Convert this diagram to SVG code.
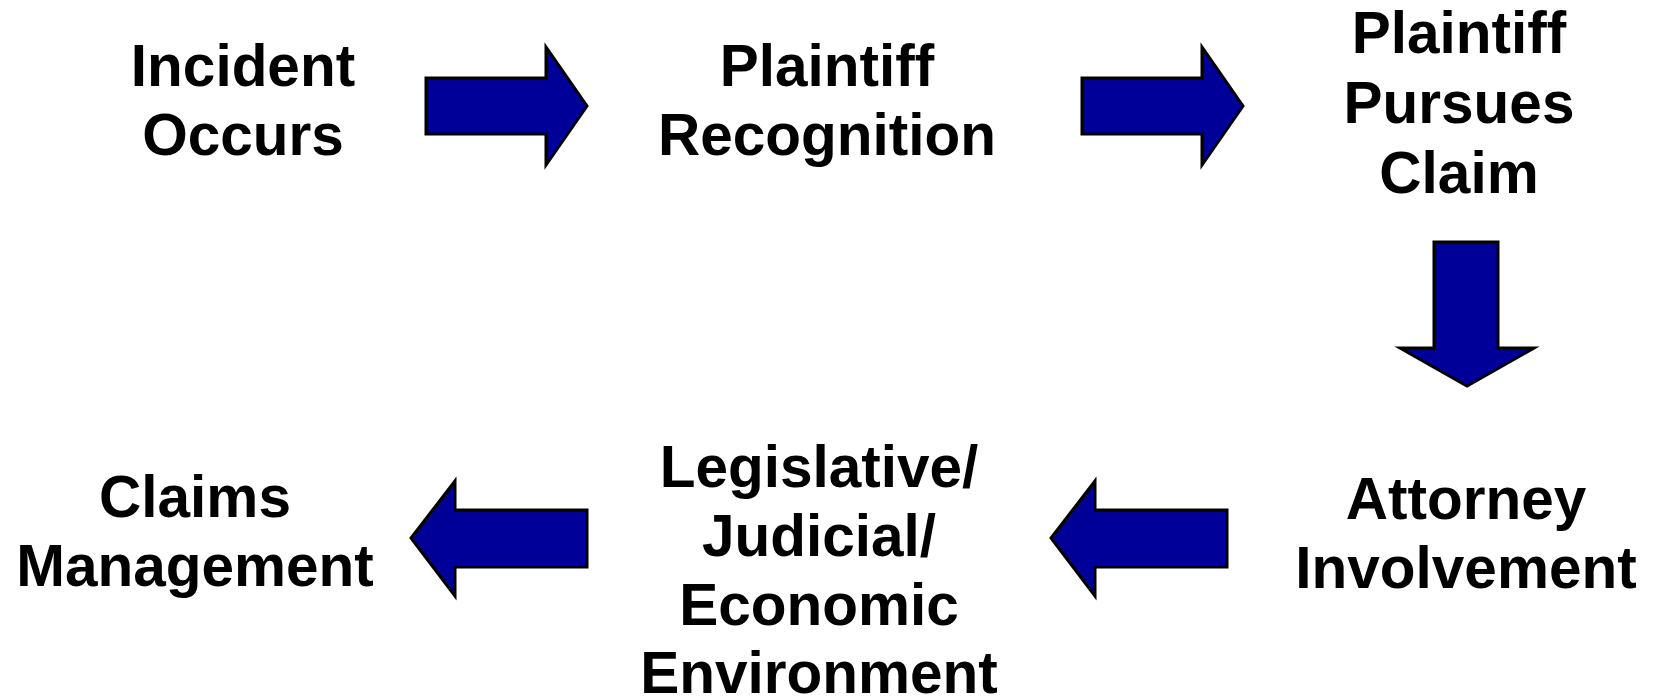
<svg xmlns="http://www.w3.org/2000/svg" width="1653" height="698" viewBox="0 0 1653 698">
<style>
text{font-family:"Liberation Sans",Arial,sans-serif;font-weight:bold;font-size:58.5px;fill:#000;text-anchor:middle}
.arr{fill:#000099;stroke:#000;stroke-width:3;stroke-linejoin:miter}
</style>
<rect width="1653" height="698" fill="#fff"/>
<g id="n-incident"><text x="243" y="86">Incident</text><text x="243" y="155">Occurs</text></g>
<g id="n-recognition"><text x="827" y="86">Plaintiff</text><text x="827" y="155">Recognition</text></g>
<g id="n-pursues"><text x="1459" y="53">Plaintiff</text><text x="1459" y="123">Pursues</text><text x="1459" y="193">Claim</text></g>
<g id="n-attorney"><text x="1466" y="519">Attorney</text><text x="1466" y="588">Involvement</text></g>
<g id="n-environment"><text x="819" y="487">Legislative/</text><text x="819" y="556">Judicial/</text><text x="819" y="625">Economic</text><text x="819" y="693">Environment</text></g>
<g id="n-claims"><text x="195" y="517">Claims</text><text x="195" y="586">Management</text></g>
<g id="connectors">
<polygon class="arr" points="426,78 546,78 546,47 587,106 546,165 546,134 426,134"/>
<polygon class="arr" points="1082,78 1202,78 1202,47 1243,106 1202,165 1202,134 1082,134"/>
<polygon class="arr" points="1434,242 1498,242 1498,348 1534,348 1467,386 1400,348 1434,348"/>
<polygon class="arr" points="1227,510 1095,510 1095,481 1051,538 1095,596 1095,567 1227,567"/>
<polygon class="arr" points="587,510 455,510 455,481 411,538 455,596 455,567 587,567"/>
</g>
</svg>
